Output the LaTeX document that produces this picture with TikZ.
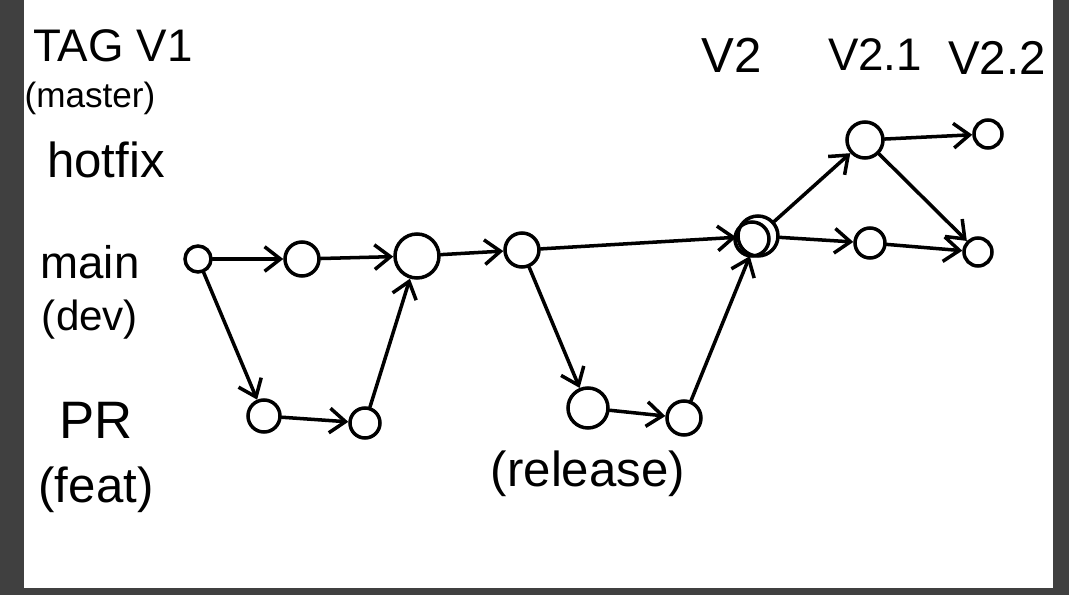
\documentclass[tikz,border=0pt]{standalone}
\usepackage{fontspec}
\setmainfont{Liberation Sans}
\usetikzlibrary{arrows.meta}
\begin{document}
\begin{tikzpicture}[x=0.02cm,y=-0.02cm,
  commit/.style={circle,draw,line width=2pt,inner sep=0pt,minimum size=#1*0.02cm},
  edge/.style={draw,line width=2pt,line cap=round,-{Straight Barb[length=9pt,width=14pt,line width=2pt]}},
  lbl/.style={inner sep=0pt,font=\fontsize{#1}{#1}\selectfont}]
\useasboundingbox (0,0) rectangle (1069,595);
\fill[fill={rgb,255:red,64;green,64;blue,64}] (0,0) rectangle (1069,595);
\fill[white] (24,0) rectangle (1053,588);

% labels
\node[lbl=26] (tag) at (113,46) {TAG V1};
\node[lbl=20] (master) at (90,98) {(master)};
\node[lbl=28] (hotfix) at (106,160) {hotfix};
\node[lbl=26] (main) at (90,262) {main};
\node[lbl=24] (dev) at (90,320) {(dev)};
\node[lbl=30] (pr) at (96,420) {PR};
\node[lbl=28] (feat) at (96,490) {(feat)};
\node[lbl=28] (v2) at (732,55) {V2};
\node[lbl=26] (v21) at (875,55) {V2.1};
\node[lbl=27] (v22) at (997,58) {V2.2};
\node[lbl=28] (release) at (588,474) {(release)};

% commits
\node[commit=26] (m1) at (198,259) {};
\node[commit=34] (m2) at (302,259) {};
\node[commit=44] (m3) at (417,256) {};
\node[commit=34] (m4) at (522,250) {};
\node[commit=40] (m5) at (758,236) {};
\node[commit=30] (m6) at (870,243) {};
\node[commit=28] (m7) at (978,252) {};
\node[commit=32] (p1) at (264,416) {};
\node[commit=30] (p2) at (365,423) {};
\node[commit=40] (r1) at (588,408) {};
\node[commit=34] (r2) at (684,418) {};
\node[commit=36] (h1) at (865,140) {};
\node[commit=28] (h2) at (988,134) {};
\draw[line width=2pt] ([shift={(-6,3)}]m5.center) circle[radius=0.34cm];

% connectors
\path[edge] (m1) -- (m2);
\path[edge] (m2) -- (m3);
\path[edge] (m3) -- (m4);
\path[edge] (m4) -- (m5);
\path[edge] (m5) -- (m6);
\path[edge] (m6) -- (m7);
\path[edge] (m1) -- (p1);
\path[edge] (p1) -- (p2);
\path[edge] (p2) -- (m3);
\path[edge] (m4) -- (r1);
\path[edge] (r1) -- (r2);
\path[edge] (r2) -- (m5);
\path[edge] (m5) -- (h1);
\path[edge] (h1) -- (h2);
\path[edge] (h1) -- (m7);
\end{tikzpicture}
\end{document}
